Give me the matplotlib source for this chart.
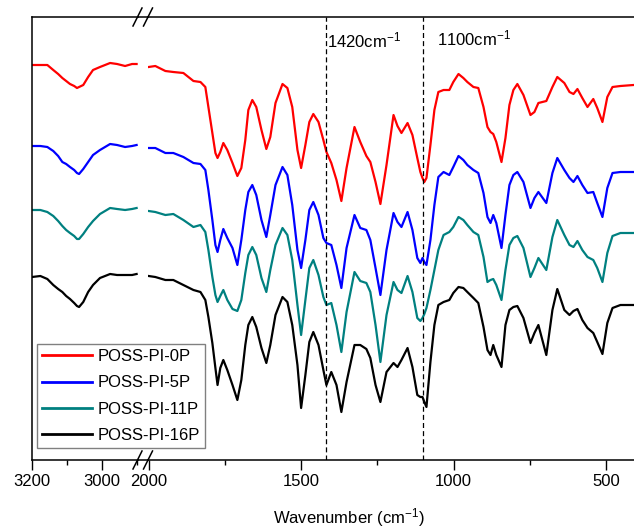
import matplotlib.pyplot as plt
from matplotlib.lines import Line2D
from matplotlib.ticker import MultipleLocator

plt.rcParams['font.family'] = 'Liberation Sans'
plt.rcParams['mathtext.fontset'] = 'custom'
plt.rcParams['mathtext.rm'] = 'Liberation Sans'
plt.rcParams['mathtext.default'] = 'regular'

#### FTIR data (transmittance, a.u., curves already offset) ####

# high wavenumber part, 3200 - 2900 cm-1
wn_left = [3200, 3176, 3156, 3139, 3125, 3113, 3102, 3091, 3079, 3071,
           3065, 3053, 3039, 3025, 3005, 2976, 2956, 2933, 2913, 2900]

p0_left = [395, 395, 395, 390, 386, 382, 379, 376, 374, 372,
           373, 375, 383, 390, 393, 397, 396, 394, 396, 396]
p5_left = [314, 314, 313, 309, 304, 298, 296, 293, 290, 287,
           286, 291, 298, 305, 310, 316, 315, 313, 314, 315]
p11_left = [250, 250, 248, 244, 239, 234, 230, 227, 224, 221,
            221, 226, 233, 239, 246, 252, 251, 250, 251, 252]
p16_left = [183, 184, 181, 175, 171, 168, 164, 161, 157, 154,
            153, 158, 168, 175, 182, 186, 185, 185, 185, 186]

# fingerprint part, 2000 - 400 cm-1
wn_right = [2000, 1978, 1945, 1919, 1886, 1853, 1830, 1814, 1804, 1791,
            1781, 1774, 1765, 1755, 1742, 1725, 1709, 1696, 1683, 1673,
            1660, 1647, 1630, 1614, 1601, 1584, 1561, 1545, 1529, 1512,
            1500, 1486, 1473, 1460, 1443, 1427, 1417, 1401, 1384, 1368,
            1351, 1325, 1306, 1286, 1273, 1256, 1240, 1220, 1197, 1184,
            1171, 1151, 1135, 1119, 1109, 1102, 1096, 1089, 1076, 1063,
            1050, 1033, 1014, 1001, 984, 968, 955, 935, 919, 902,
            889, 879, 870, 860, 843, 830, 817, 804, 791, 771,
            748, 735, 722, 696, 676, 660, 637, 620, 607, 594,
            578, 561, 542, 529, 512, 496, 479, 453, 410, 400]

p0_right = [393, 394, 389, 388, 387, 379, 378, 373, 353, 327,
            307, 302, 308, 317, 310, 297, 284, 292, 320, 350,
            360, 353, 330, 311, 323, 357, 376, 372, 353, 310,
            292, 315, 338, 346, 338, 320, 308, 297, 280, 259,
            292, 333, 318, 304, 298, 278, 256, 295, 345, 334,
            327, 337, 325, 302, 288, 282, 278, 282, 315, 350,
            368, 370, 370, 378, 386, 382, 378, 373, 372, 353,
            333, 328, 326, 318, 298, 322, 355, 370, 376, 365,
            345, 348, 357, 359, 373, 383, 377, 368, 366, 371,
            362, 353, 361, 352, 338, 363, 373, 374, 375, 375]
p5_right = [312, 312, 307, 307, 303, 297, 296, 290, 270, 240,
            215, 208, 220, 231, 222, 212, 195, 220, 250, 268,
            275, 265, 240, 223, 245, 275, 293, 285, 255, 210,
            192, 220, 250, 258, 245, 222, 217, 215, 195, 172,
            212, 245, 232, 230, 220, 192, 165, 210, 247, 238,
            233, 248, 230, 202, 197, 202, 198, 195, 220, 255,
            283, 288, 285, 293, 304, 300, 295, 290, 287, 267,
            243, 237, 245, 237, 212, 245, 275, 285, 288, 278,
            252, 262, 268, 257, 287, 302, 290, 282, 278, 284,
            275, 267, 268, 257, 243, 272, 287, 288, 288, 288]
p11_right = [249, 248, 245, 246, 240, 233, 235, 228, 210, 183,
             165, 158, 164, 170, 160, 151, 149, 160, 187, 205,
             213, 205, 182, 168, 190, 215, 232, 225, 200, 155,
             125, 160, 192, 200, 185, 163, 155, 157, 135, 108,
             148, 188, 179, 177, 168, 135, 98, 145, 178, 170,
             167, 184, 168, 142, 139, 142, 146, 152, 170, 190,
             210, 225, 228, 233, 243, 240, 235, 228, 225, 203,
             178, 180, 181, 175, 160, 190, 215, 222, 224, 212,
             183, 192, 202, 190, 223, 240, 225, 215, 213, 219,
             210, 203, 200, 192, 178, 207, 224, 227, 227, 227]
p16_right = [184, 183, 180, 180, 175, 170, 168, 160, 143, 117,
             92, 75, 92, 100, 90, 75, 60, 80, 115, 135,
             143, 133, 112, 97, 115, 145, 163, 158, 135, 95,
             52, 85, 118, 128, 115, 90, 75, 88, 75, 48,
             78, 115, 115, 111, 102, 75, 58, 88, 97, 93,
             100, 112, 93, 65, 63, 63, 58, 53, 98, 135,
             155, 158, 160, 167, 173, 172, 168, 162, 157, 133,
             110, 105, 115, 105, 93, 135, 150, 153, 154, 142,
             117, 127, 135, 105, 150, 171, 150, 145, 149, 151,
             140, 132, 127, 118, 106, 137, 152, 155, 155, 155]

labels = ['POSS-PI-0P', 'POSS-PI-5P', 'POSS-PI-11P', 'POSS-PI-16P']
colors = ['#ff0000', '#0000ff', '#008080', '#000000']
marks = [1420, 1100]

left_sets = [p0_left, p5_left, p11_left, p16_left]
right_sets = [p0_right, p5_right, p11_right, p16_right]

#### figure with broken x axis ####
W, H = 634, 529
fig = plt.figure(figsize=(W / 100, H / 100), dpi=100)
ax1 = fig.add_axes([32 / W, 69 / H, 106 / W, 443 / H])
ax2 = fig.add_axes([148 / W, 69 / H, 488.6 / W, 443 / H])

for ys, c in zip(left_sets, colors):
    ax1.plot(wn_left, ys, color=c, lw=1.6, solid_joinstyle='round')
for ys, c, lab in zip(right_sets, colors, labels):
    ax2.plot(wn_right, ys, color=c, lw=1.6, label=lab,
             solid_joinstyle='round')

ax1.set_xlim(3200, 2896)
ax2.set_xlim(2002, 400)
for ax in (ax1, ax2):
    ax.set_ylim(0, 443)
    ax.set_yticks([])
    ax.tick_params(axis='x', which='major', direction='out', length=7,
                   width=1, labelsize=12, pad=3)
    ax.tick_params(axis='x', which='minor', direction='out', length=3.5,
                   width=1)
    for s in ax.spines.values():
        s.set_linewidth(1.1)

ax1.xaxis.set_major_locator(MultipleLocator(200))
ax1.xaxis.set_minor_locator(MultipleLocator(100))
ax2.xaxis.set_major_locator(MultipleLocator(500))
ax2.xaxis.set_minor_locator(MultipleLocator(250))
ax1.spines['right'].set_visible(False)
ax2.spines['left'].set_visible(False)
ax2.spines['right'].set_visible(False)

# dashed marker lines
for m in marks:
    ax2.axvline(m, color='black', lw=0.9, ls=(0, (4, 2.5)))
ax2.text(1414, 413, '1420cm$^{-1}$', fontsize=12, ha='left', va='baseline')
ax2.text(1054, 415, '1100cm$^{-1}$', fontsize=12, ha='left', va='baseline')

# spine across the gap plus break marks
for yp in (17, 460):
    fig.add_artist(Line2D([138 / W, 148 / W], [1 - yp / H, 1 - yp / H],
                          color='black', lw=1.1))
    for xc in (137.5, 148):
        fig.add_artist(Line2D([(xc - 4.5) / W, (xc + 4.5) / W],
                              [1 - (yp + 9) / H, 1 - (yp - 9) / H],
                              color='black', lw=1.1))

fig.text(349 / W, 6 / H, 'Wavenumber (cm$^{-1}$)', fontsize=12,
         ha='center', va='baseline')

leg = fig.legend(*ax2.get_legend_handles_labels(), loc='lower left',
                 bbox_to_anchor=(37 / W, 81 / H), fontsize=12,
                 frameon=True, fancybox=False, edgecolor='#808080',
                 framealpha=1, borderpad=0.3, labelspacing=0.68,
                 handlelength=3.0, handletextpad=0.35, borderaxespad=0)
leg.get_frame().set_linewidth(1.0)
for line in leg.get_lines():
    line.set_linewidth(2)

fig.savefig('out.png', dpi=100)
